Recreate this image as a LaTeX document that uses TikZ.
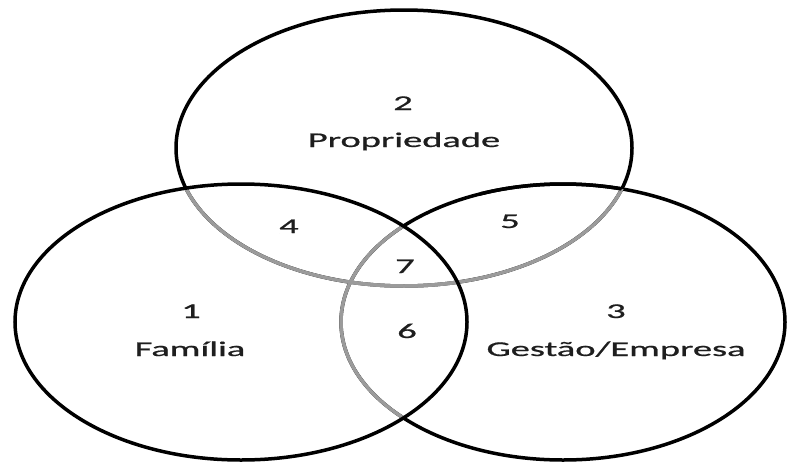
\documentclass[tikz,border=0pt]{standalone}
\usepackage{fontspec}
\setmainfont{Carlito}
\newfontfamily\lblfont{Carlito}[FakeBold=0.7]
\definecolor{arcgray}{RGB}{155,155,155}
\definecolor{txt}{RGB}{30,30,30}
\begin{document}
\begin{tikzpicture}[x=1pt,y=-1pt,line width=3.5pt,
  lbl/.style={font=\lblfont\fontsize{21}{21}\selectfont, text=txt, xscale=1.83, inner sep=0pt, anchor=base}]
\useasboundingbox (0,0) rectangle (787,464);
% black outlines
\draw[black] (404,148) ellipse [x radius=228, y radius=138];
\draw[black] (563,322) ellipse [x radius=222, y radius=138];
% gray parts inside the left circle
\begin{scope}
  \clip (241,322) ellipse [x radius=226, y radius=138];
  \draw[arcgray] (404,148) ellipse [x radius=228, y radius=138];
  \draw[arcgray] (563,322) ellipse [x radius=222, y radius=138];
\end{scope}
% gray part of top circle inside the right circle
\begin{scope}
  \clip (563,322) ellipse [x radius=222, y radius=138];
  \draw[arcgray] (404,148) ellipse [x radius=228, y radius=138];
\end{scope}
% restore black right circle inside top circle
\begin{scope}
  \clip (480,0) rectangle (787,250);
  \clip (404,148) ellipse [x radius=228, y radius=138];
  \draw[black] (563,322) ellipse [x radius=222, y radius=138];
\end{scope}
% left circle fully black
\draw[black] (241,322) ellipse [x radius=226, y radius=138];
% labels
\node[lbl] (n2) at (403,110) {2};
\node[lbl] (prop) at (404,147) {Propriedade};
\node[lbl] (n4) at (289,233) {4};
\node[lbl] (n5) at (510,228) {5};
\node[lbl] (n7) at (405,273) {7};
\node[lbl] (n6) at (407,338) {6};
\node[lbl] (n1) at (191,318) {1};
\node[lbl] (fam) at (190,356) {Família};
\node[lbl] (n3) at (616,318) {3};
\node[lbl] (gest) at (616,356) {Gestão/Empresa};
\end{tikzpicture}
\end{document}
